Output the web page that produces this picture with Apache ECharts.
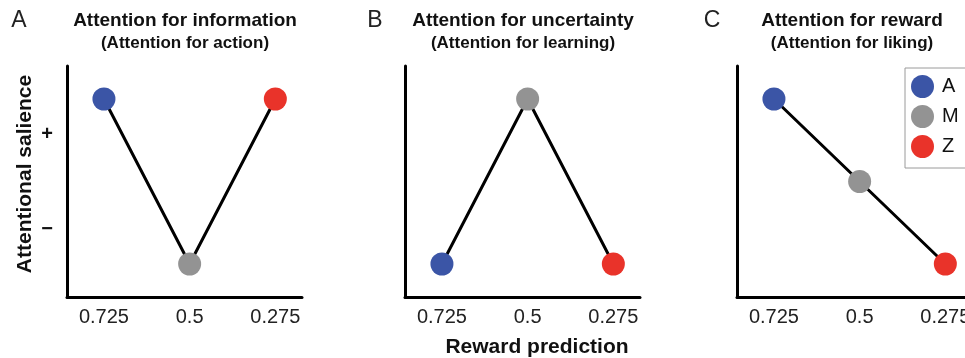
<!DOCTYPE html>
<html>
<head>
<meta charset="utf-8">
<script src="https://cdn.jsdelivr.net/npm/echarts@6/dist/echarts.min.js"></script>
<style>html,body{margin:0;padding:0;background:#fff}#c{width:965px;height:358px}</style>
</head>
<body>
<div id="c"></div>
<script>
// ---- data ----
var rewardPrediction = [0.725, 0.5, 0.275];
var groupNames = ['A', 'M', 'Z'];
var groupColors = ['#3b55a6', '#939393', '#e9332a'];
var salienceInformation = [1, -1, 1];   // panel A
var salienceUncertainty = [-1, 1, -1];  // panel B
var salienceReward = [1, 0, -1];        // panel C
var panelLetters = ['A', 'B', 'C'];
var panelTitles = ['Attention for information', 'Attention for uncertainty', 'Attention for reward'];
var panelSubtitles = ['(Attention for action)', '(Attention for learning)', '(Attention for liking)'];
var xTickValues = [0.725, 0.5, 0.275];
var yTickValues = [0.57, -0.58];
var yTickLabels = ['+', '\u2212'];

var panels = [salienceInformation, salienceUncertainty, salienceReward];
var gridLefts = [67, 405, 737];
var titleCenters = [185, 523, 852];
var letterCenters = [19, 375, 712];
var FONT = '"Liberation Sans", Arial, Helvetica, sans-serif';

var grids = [], xAxes = [], yAxes = [], series = [], graphics = [];
panels.forEach(function (vals, p) {
  grids.push({left: gridLefts[p], top: 66, width: 235, height: 231, outerBoundsMode: 'none', containLabel: false});
  xAxes.push({
    type: 'value', gridIndex: p, inverse: true, min: 0.205, max: 0.822,
    axisLine: {show: true, onZero: false, lineStyle: {color: '#000', width: 3}},
    axisTick: {show: false}, splitLine: {show: false},
    axisLabel: {customValues: xTickValues, margin: 10, color: '#222', fontSize: 20, fontFamily: FONT,
      formatter: function (v) { return String(v); }}
  });
  yAxes.push({
    type: 'value', gridIndex: p, min: -1.4, max: 1.4,
    axisLine: {show: true, onZero: false, lineStyle: {color: '#000', width: 3}},
    axisTick: {show: false}, splitLine: {show: false},
    axisLabel: {show: p === 0, customValues: yTickValues, margin: 14, color: '#111', fontSize: 20, fontWeight: 'bold', fontFamily: FONT,
      formatter: function (v) { return v > 0 ? yTickLabels[0] : yTickLabels[1]; }}
  });
  series.push({
    type: 'line', xAxisIndex: p, yAxisIndex: p, symbol: 'none', silent: true, z: 2,
    lineStyle: {color: '#000', width: 3},
    data: rewardPrediction.map(function (x, i) { return [x, vals[i]]; })
  });
  groupNames.forEach(function (g, i) {
    series.push({
      type: 'scatter', name: g, xAxisIndex: p, yAxisIndex: p, symbol: 'circle', symbolSize: 23, z: 3,
      itemStyle: {color: groupColors[i], opacity: 1},
      data: [[rewardPrediction[i], vals[i]]]
    });
  });
  graphics.push({type: 'text', x: letterCenters[p], y: 21,
    style: {text: panelLetters[p], font: '300 23px ' + FONT, fill: '#222', align: 'center', verticalAlign: 'middle'}});
  graphics.push({type: 'text', x: titleCenters[p], y: 21,
    style: {text: panelTitles[p], font: 'bold 19px ' + FONT, fill: '#111', align: 'center', verticalAlign: 'middle'}});
  graphics.push({type: 'text', x: titleCenters[p], y: 43,
    style: {text: panelSubtitles[p], font: 'bold 17px ' + FONT, fill: '#111', align: 'center', verticalAlign: 'middle'}});
});
graphics.push({type: 'text', x: 537, y: 347,
  style: {text: 'Reward prediction', font: 'bold 21px ' + FONT, fill: '#111', align: 'center', verticalAlign: 'middle'}});
graphics.push({type: 'text', x: 25, y: 174, rotation: Math.PI / 2,
  style: {text: 'Attentional salience', font: 'bold 21px ' + FONT, fill: '#111', align: 'center', verticalAlign: 'middle'}});

var chart = echarts.init(document.getElementById('c'), null, {renderer: 'canvas'});
chart.setOption({
  animation: false,
  backgroundColor: '#fff',
  grid: grids, xAxis: xAxes, yAxis: yAxes, series: series,
  legend: {
    data: groupNames.map(function (g) { return {name: g, icon: 'circle'}; }),
    orient: 'vertical', left: 905, top: 68,
    itemWidth: 23, itemHeight: 23, itemGap: 7,
    padding: [7, 40, 10, 6],
    borderColor: '#9a9a9a', borderWidth: 1,
    textStyle: {fontSize: 20, color: '#111', fontFamily: FONT, padding: [0, 0, 0, 3]},
    selectedMode: false
  },
  graphic: graphics
});
</script>
</body>
</html>
